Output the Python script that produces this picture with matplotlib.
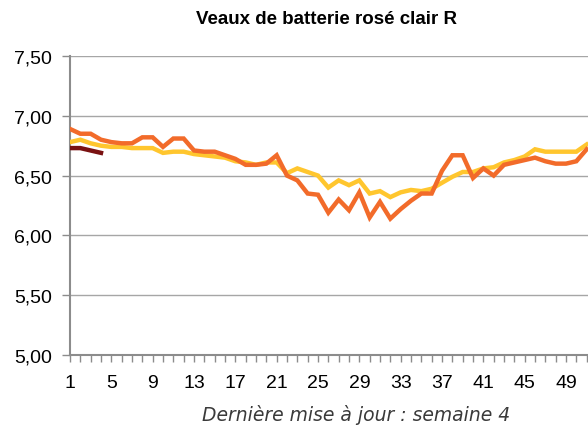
import matplotlib
matplotlib.use("Agg")
import matplotlib.pyplot as plt
from matplotlib.ticker import FuncFormatter, FixedLocator

weeks_orange = list(range(1, 52))
orange = [6.89, 6.85, 6.85, 6.80, 6.78, 6.77, 6.77, 6.82, 6.82, 6.74,
          6.81, 6.81, 6.71, 6.70, 6.70, 6.67, 6.64, 6.59, 6.59, 6.60,
          6.67, 6.50, 6.46, 6.35, 6.34, 6.19, 6.30, 6.21, 6.36, 6.15,
          6.28, 6.14, 6.22, 6.29, 6.35, 6.35, 6.54, 6.67, 6.67, 6.48,
          6.56, 6.50, 6.59, 6.61, 6.63, 6.65, 6.62, 6.60, 6.60, 6.62, 6.72]
weeks_yellow = list(range(1, 52))
yellow = [6.78, 6.80, 6.77, 6.75, 6.74, 6.74, 6.73, 6.73, 6.73, 6.69,
          6.70, 6.70, 6.68, 6.67, 6.66, 6.65, 6.62, 6.61, 6.59, 6.61,
          6.61, 6.52, 6.56, 6.53, 6.50, 6.40, 6.46, 6.42, 6.46, 6.35,
          6.37, 6.32, 6.36, 6.38, 6.37, 6.39, 6.44, 6.49, 6.53, 6.53,
          6.56, 6.57, 6.61, 6.63, 6.66, 6.72, 6.70, 6.70, 6.70, 6.70, 6.76]
weeks_current = [1, 2, 3, 4]
current = [6.73, 6.73, 6.71, 6.69]

x_labels = [1, 5, 9, 13, 17, 21, 25, 29, 33, 37, 41, 45, 49]
y_ticks = [5.00, 5.50, 6.00, 6.50, 7.00, 7.50]

title = "Veaux de batterie rosé clair R"
footer = "Dernière mise à jour : semaine 4"

W, H = 588, 427
fig = plt.figure(figsize=(W / 100, H / 100), dpi=100)
ax = fig.add_axes([70 / W, 71 / H, 527 / W, 299 / H])

ax.plot(weeks_yellow, yellow, color="#FFC62E", lw=3.2, solid_joinstyle="miter", zorder=3)
ax.plot(weeks_orange, orange, color="#F26B2A", lw=3.2, solid_joinstyle="miter", zorder=4)
ax.plot(weeks_current, current, color="#7A1212", lw=3.2, zorder=5)

ax.set_xlim(1, 52)
ax.set_ylim(5.0, 7.5)
ax.set_yticks(y_ticks)
ax.yaxis.set_major_formatter(FuncFormatter(lambda v, p: f"{v:.2f}".replace(".", ",")))
ax.grid(axis="y", color="#A6A6A6", lw=1.0)
ax.set_axisbelow(True)

ax.xaxis.set_major_locator(FixedLocator(list(range(1, 53))))
ax.set_xticklabels([str(w) if w in x_labels else "" for w in range(1, 53)])

for s in ["top", "right"]:
    ax.spines[s].set_visible(False)
for s in ["left", "bottom"]:
    ax.spines[s].set_color("#8C8C8C")
    ax.spines[s].set_linewidth(1.5)

font = "Liberation Sans"
ax.tick_params(axis="x", length=5, color="#8C8C8C", width=1, pad=9,
               labelsize=14, labelcolor="black")
ax.tick_params(axis="y", length=6, color="#8C8C8C", width=1, pad=7,
               labelsize=14, labelcolor="black")
for lab in ax.get_xticklabels() + ax.get_yticklabels():
    lab.set_fontfamily(font)

fig.text(327 / W, 1 - 20 / H, title, ha="center", va="center",
         fontsize=13.5, fontweight="bold", family=font)
fig.text(356 / W, 1 - 421 / H, footer, ha="center", va="baseline",
         fontsize=13.5, style="italic", family="DejaVu Sans", color="#3A3A3A")

fig.savefig("out.png", dpi=100)
